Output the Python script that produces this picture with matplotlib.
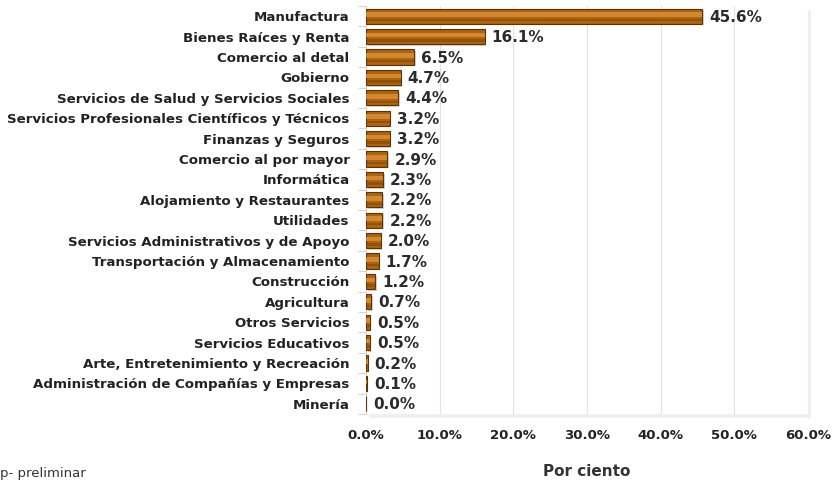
import matplotlib
matplotlib.use("Agg")
import matplotlib.pyplot as plt
import matplotlib.patheffects as pe
import numpy as np

categories = [
    "Manufactura", "Bienes Raíces y Renta", "Comercio al detal", "Gobierno",
    "Servicios de Salud y Servicios Sociales",
    "Servicios Profesionales Científicos y Técnicos", "Finanzas y Seguros",
    "Comercio al por mayor", "Informática", "Alojamiento y Restaurantes",
    "Utilidades", "Servicios Administrativos y de Apoyo",
    "Transportación y Almacenamiento", "Construcción", "Agricultura",
    "Otros Servicios", "Servicios Educativos",
    "Arte, Entretenimiento y Recreación",
    "Administración de Compañías y Empresas", "Minería",
]
values = [45.6, 16.1, 6.5, 4.7, 4.4, 3.2, 3.2, 2.9, 2.3, 2.2, 2.2, 2.0, 1.7,
          1.2, 0.7, 0.5, 0.5, 0.2, 0.1, 0.0]
xticks = [0, 10, 20, 30, 40, 50, 60]

plt.rcParams['font.family'] = ['DejaVu Sans']

fig = plt.figure(figsize=(8.32, 4.8), dpi=100)
ax = fig.add_axes([0.44, 0.1375, 0.531, 0.85])

y = np.arange(len(categories))
h = 0.74
shadow = [pe.SimplePatchShadow(offset=(1.2, -1.2), shadow_rgbFace='#777777', alpha=0.3), pe.Normal()]
ax.barh(y, values, height=h, color='#AE630E', edgecolor='#5E3304', linewidth=0.8,
        zorder=3, path_effects=shadow)
ax.barh(y - h * 0.1, values, height=h * 0.3, color='#DC9238', linewidth=0,
        zorder=4, alpha=0.8)
ax.barh(y + h * 0.27, values, height=h * 0.16, color='#7A4306', linewidth=0,
        zorder=4, alpha=0.55)

for yi, v in zip(y, values):
    ax.text(v + 0.95, yi + 0.05, f"{v:.1f}%", va='center', ha='left',
            fontsize=11, fontweight='bold', color='#2b2b2b', zorder=5)

ax.set_ylim(len(categories) - 0.5, -0.5)
ax.set_xlim(0, 60)
ax.set_yticks(y)
ax.set_yticklabels(categories, fontsize=9.6, fontweight='bold', color='#222222')
ax.set_xticks(xticks)
ax.set_xticklabels([f"{t:.1f}%" for t in xticks], fontsize=9.5, fontweight='bold', color='#222222')
ax.tick_params(axis='x', length=0, pad=11)
ax.tick_params(axis='y', length=0, pad=12)

ax.set_yticks(np.arange(len(categories) + 1) - 0.5, minor=True)
ax.tick_params(axis='y', which='minor', length=6, color='#d5d5d5', width=0.8)

ax.grid(axis='x', color='#e2e2e2', linewidth=0.8, zorder=0)
for s in ['top', 'right', 'bottom']:
    ax.spines[s].set_visible(False)
ax.spines['left'].set_color('#d5d5d5')
ax.patch.set_path_effects([pe.SimplePatchShadow(offset=(2, -3), shadow_rgbFace='#aaaaaa', alpha=0.18), pe.Normal()])

fig.text(0.705, 0.003, "Por ciento", ha='center', va='bottom', fontsize=11,
         fontweight='bold', color='#333333')
fig.text(0.0, 0.0, "p- preliminar", ha='left', va='bottom', fontsize=9.5,
         color='#333333')

fig.savefig("out.png", dpi=100)
